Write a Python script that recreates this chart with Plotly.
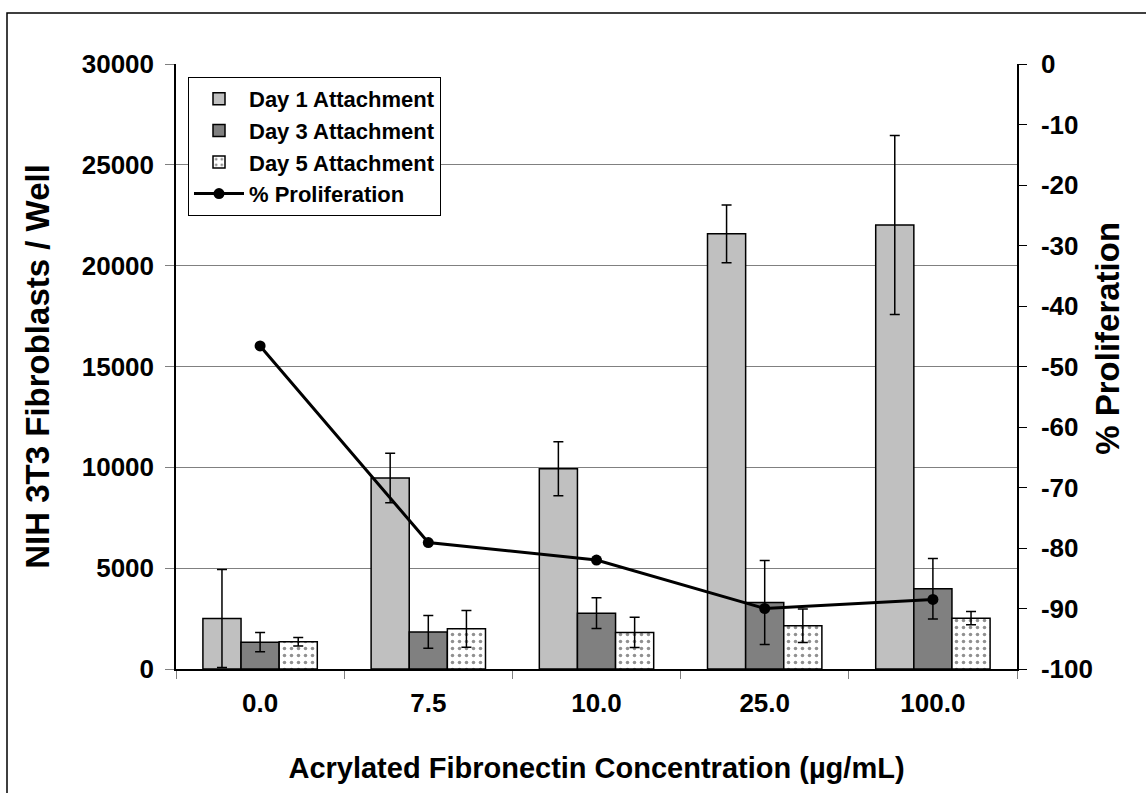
import plotly.graph_objects as go

categories = ["0.0", "7.5", "10.0", "25.0", "100.0"]
day1 = [2500, 9470, 9930, 21580, 22020]
day1_err = [2430, 1230, 1340, 1430, 4440]
day3 = [1330, 1840, 2770, 3300, 3980]
day3_err = [475, 810, 760, 2080, 1500]
day5 = [1350, 1990, 1810, 2150, 2520]
day5_err = [210, 910, 750, 830, 330]
prolif = [-46.6, -79.1, -82.0, -90.0, -88.5]

left_ticks = [0, 5000, 10000, 15000, 20000, 25000, 30000]
right_ticks = [-100, -90, -80, -70, -60, -50, -40, -30, -20, -10, 0]

FONT = "Liberation Sans, Arial, sans-serif"
W, H = 1146, 793
L, R, T, B = 176, 1017, 64, 669.5

TICK = 26
XTITLE = 29
YTITLE = 33
LEG = 22

def err(vals):
    return dict(type="data", array=vals, visible=True, color="black", thickness=1.5, width=5)

fig = go.Figure()
fig.add_trace(go.Bar(name="Day 1 Attachment", x=categories, y=day1, error_y=err(day1_err),
                     marker=dict(color="#C0C0C0", line=dict(color="black", width=1.5))))
fig.add_trace(go.Bar(name="Day 3 Attachment", x=categories, y=day3, error_y=err(day3_err),
                     marker=dict(color="#808080", line=dict(color="black", width=1.5))))
fig.add_trace(go.Bar(name="Day 5 Attachment", x=categories, y=day5, error_y=err(day5_err),
                     marker=dict(color="white", line=dict(color="black", width=1.5),
                                 pattern=dict(shape=".", fgcolor="#222222", bgcolor="white",
                                              size=7, solidity=0.2))))
fig.add_trace(go.Scatter(name="% Proliferation", x=categories, y=prolif, yaxis="y2",
                         mode="lines+markers", line=dict(color="black", width=3),
                         marker=dict(color="black", size=11)))

pw, ph = R - L, B - T
def px(x):
    return (x - L) / pw
def py(y):
    return (B - y) / ph

fig.update_layout(
    width=W, height=H,
    margin=dict(l=L, r=W - R, t=T, b=H - B, autoexpand=False),
    paper_bgcolor="white", plot_bgcolor="white",
    font=dict(family=FONT, color="black", size=TICK, weight="bold"),
    barmode="group", bargap=0.32, bargroupgap=0,
    xaxis=dict(type="category", tickson="boundaries", ticks="outside", ticklen=8,
               tickcolor="#808080", showline=True, linecolor="black", linewidth=2,
               showgrid=False, tickfont=dict(size=TICK, weight="bold"), ticklabelstandoff=10,
               title=dict(text="Acrylated Fibronectin Concentration (µg/mL)",
                          font=dict(size=XTITLE, weight="bold"), standoff=40)),
    yaxis=dict(range=[0, 30000], tickvals=left_ticks, ticktext=[str(v) for v in left_ticks],
               ticks="outside", ticklen=9, tickcolor="#808080",
               showline=True, linecolor="black", linewidth=1.5, showgrid=True,
               gridcolor="#808080", gridwidth=1, zeroline=False,
               tickfont=dict(size=TICK, weight="bold"), ticklabelstandoff=6,
               title=dict(text="NIH 3T3 Fibroblasts / Well", font=dict(size=YTITLE, weight="bold"),
                          standoff=22)),
    yaxis2=dict(range=[-100, 0], tickvals=right_ticks, ticktext=[str(v) for v in right_ticks],
                overlaying="y", side="right", ticks="outside",
                ticklen=8, tickcolor="black", showline=True, linecolor="black", linewidth=1.5,
                showgrid=False, zeroline=False, tickfont=dict(size=TICK, weight="bold"),
                ticklabelstandoff=9),
    legend=dict(x=px(188), y=py(77), xanchor="left", yanchor="top",
                bgcolor="white", bordercolor="black", borderwidth=1, itemwidth=50,
                font=dict(size=LEG, weight="bold"), tracegroupgap=0, traceorder="normal"),
    annotations=[dict(text="% Proliferation", xref="paper", yref="paper",
                      x=px(1108), y=py(339), xanchor="center", yanchor="middle",
                      textangle=-90, showarrow=False,
                      font=dict(size=YTITLE, weight="bold", color="black"))],
    shapes=[dict(type="rect", xref="paper", yref="paper",
                 x0=px(7), x1=px(1170), y0=py(820), y1=py(13),
                 line=dict(color="black", width=1.5), fillcolor="rgba(0,0,0,0)", layer="below")],
)

fig.write_html("out.html")
